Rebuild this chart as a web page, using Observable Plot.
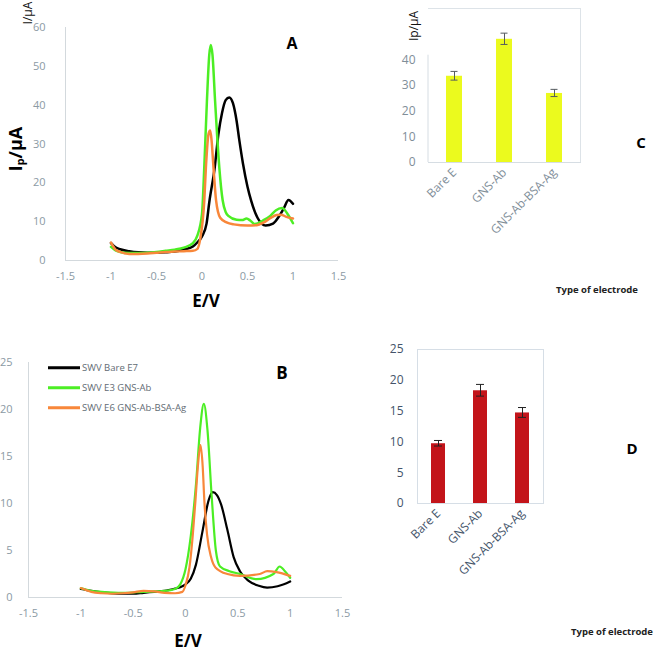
<!DOCTYPE html>
<html><head><meta charset="utf-8">
<script src="https://cdn.jsdelivr.net/npm/d3@7"></script>
<script src="https://cdn.jsdelivr.net/npm/@observablehq/plot@0.6"></script>
<style>
body{margin:0;background:#fff;}
#fig{position:relative;width:659px;height:650px;overflow:hidden;font-family:"Open Sans",sans-serif;background:#fff;}
.p{position:absolute;}
.lbl{position:absolute;white-space:nowrap;line-height:1;}
.rot{transform:translate(-50%,-50%) rotate(-90deg);}
.ctr{transform:translate(-50%,-50%);}
sub{font-size:60%;vertical-align:-0.15em;}
</style></head><body><div id="fig"></div>
<script>
// ---------- data ----------
const seriesNames = ["SWV Bare E7", "SWV E3 GNS-Ab", "SWV E6 GNS-Ab-BSA-Ag"];
const seriesColors = ["#000000", "#4cee24", "#f8873a"];

// Panel A (I/µA vs E/V)
const aBlackE = [-1,-0.95,-0.9,-0.8,-0.7,-0.6,-0.5,-0.4,-0.3,-0.2,-0.1,-0.05,0,0.05,0.08,0.14,0.18,0.22,0.26,0.30,0.34,0.38,0.41,0.45,0.50,0.54,0.61,0.70,0.78,0.85,0.90,0.95,1.0];
const aBlackI = [4.5,3.4,2.9,2.4,2.1,2.0,2.0,2.1,2.3,2.8,3.6,4.7,6.2,9.5,15,24,32.5,38,41.3,42,40.5,36,31,25,19,15.4,11,9,9.5,11.5,13.5,15.6,14.6];
const aGreenE = [-1,-0.95,-0.9,-0.8,-0.7,-0.6,-0.5,-0.4,-0.3,-0.2,-0.1,-0.05,0,0.025,0.054,0.08,0.097,0.115,0.144,0.19,0.227,0.26,0.29,0.38,0.44,0.49,0.53,0.58,0.67,0.75,0.81,0.88,0.94,1.0];
const aGreenI = [3.5,2.6,2.2,1.9,1.9,2.0,2.2,2.5,2.8,3.3,4.5,6.5,12,24,41,53,55.5,53,41,24,15.5,12.5,11.5,10.5,10.4,10.8,10.3,9.4,10.3,11.5,12.9,13.5,12,9.6];
const aOrangeE = [-1,-0.95,-0.9,-0.8,-0.7,-0.6,-0.5,-0.4,-0.3,-0.2,-0.1,-0.05,-0.02,0.025,0.043,0.072,0.09,0.105,0.126,0.155,0.2,0.27,0.35,0.5,0.6,0.68,0.75,0.82,0.87,0.92,1.0];
const aOrangeI = [4.6,2.8,2.2,1.7,1.7,1.8,2.0,2.2,2.3,2.4,2.5,3.0,5.5,15.4,24,32.6,33.5,31,24,15.4,11,9.8,9.3,9.0,9.1,9.8,10.9,11.7,11.8,11.3,10.8];

// Panel B
const bBlackE = [-1,-0.9,-0.8,-0.6,-0.5,-0.4,-0.3,-0.2,-0.1,-0.05,0,0.05,0.1,0.16,0.22,0.26,0.30,0.34,0.40,0.46,0.52,0.6,0.7,0.78,0.88,0.94,1.0];
const bBlackI = [0.9,0.7,0.55,0.4,0.4,0.5,0.6,0.7,0.95,1.1,1.4,2.0,3.5,6.9,10.3,11.2,10.9,9.9,7.2,4.3,2.8,1.8,1.25,1.06,1.2,1.4,1.7];
const bGreenE = [-1,-0.9,-0.8,-0.6,-0.4,-0.2,-0.1,-0.05,0,0.05,0.1,0.14,0.175,0.21,0.25,0.29,0.33,0.42,0.52,0.68,0.84,0.9,0.95,1.0];
const bGreenI = [1.0,0.7,0.6,0.5,0.6,0.7,0.9,1.4,3.0,6.5,12,18,20.6,17.8,10.8,5.0,3.3,2.8,2.5,1.95,2.5,3.3,2.8,2.1];
const bOrangeE = [-1,-0.9,-0.8,-0.7,-0.6,-0.5,-0.4,-0.3,-0.2,-0.1,-0.03,0,0.038,0.07,0.095,0.117,0.143,0.165,0.18,0.206,0.244,0.286,0.4,0.52,0.71,0.78,0.87,1.0];
const bOrangeI = [1.0,0.6,0.45,0.4,0.45,0.55,0.7,0.65,0.5,0.45,0.6,1.3,3.2,6.7,10.3,13.8,16.2,13.8,10.3,6.7,4.3,3.2,2.5,2.3,2.5,2.8,2.7,2.3];

// Panels C and D (bars)
const electrodes = ["Bare E", "GNS-Ab", "GNS-Ab-BSA-Ag"];
const cValues = [33.6, 48.0, 26.9];
const cErrors = [1.7, 2.2, 1.4];
const dValues = [9.7, 18.3, 14.7];
const dErrors = [0.45, 0.95, 0.8];

const aXTicks = [-1.5,-1,-0.5,0,0.5,1,1.5];
const aYTicks = [0,10,20,30,40,50,60];
const bYTicks = [0,5,10,15,20,25];
const cYTicks = [0,10,20,30,40];
const dYTicks = [0,5,10,15,20,25];

// ---------- helpers ----------
const NS = "http://www.w3.org/2000/svg";
const fig = document.getElementById("fig");
function place(node, left, top){ node.classList.add("p"); node.style.left=left+"px"; node.style.top=top+"px"; fig.appendChild(node); }
function label(html, x, y, css, cls){ const d=document.createElement("div"); d.className="lbl "+(cls||""); d.innerHTML=html; d.style.left=x+"px"; d.style.top=y+"px"; Object.assign(d.style, css||{}); fig.appendChild(d); return d; }
const zipPts = (E, I) => E.map((e,i)=>({E:e, I:I[i]}));
const fmt = d => String(d);

function curvePanel(opts){
  const {width,height,mL,mR,mT,mB,yDomain,yTicks,series,sw,yPad,xPad} = opts;
  return Plot.plot({
    width, height, marginLeft:mL, marginRight:mR, marginTop:mT, marginBottom:mB,
    x:{domain:[-1.5,1.5]}, y:{domain:yDomain},
    style:{fontFamily:"Open Sans, sans-serif", fontSize:"11px", color:"#8b9aa4", background:"transparent", overflow:"visible"},
    marks:[
      Plot.ruleX([-1.5], {stroke:"#d3d9dd", strokeWidth:1}),
      Plot.ruleY([yDomain[0]], {stroke:"#d3d9dd", strokeWidth:1}),
      Plot.axisX({ticks:aXTicks, tickSize:0, tickPadding:xPad, tickFormat:fmt, label:null}),
      Plot.axisY({ticks:yTicks, tickSize:0, tickPadding:yPad, tickFormat:fmt, label:null}),
      ...series.map((s,k)=>Plot.line(zipPts(s[0], s[1]), {x:"E", y:"I", stroke:seriesColors[k], strokeWidth:sw, curve:"monotone-x"}))
    ]
  });
}

function barPanel(opts){
  const {width,height,mL,mR,mT,mB,yDomain,yTicks,values,errors,fill,errColor,pad,capHalf,tickColor,catColor,box} = opts;
  const data = electrodes.map((c,i)=>({c, v:values[i], e:errors[i]}));
  const marks = [];
  if (box === "full") marks.push(Plot.frame({stroke:"#d6dee6"}));
  else {
    marks.push(Plot.frame({anchor:"top", stroke:"#dde3e8"}));
    marks.push(Plot.frame({anchor:"right", stroke:"#dde3e8"}));
    marks.push(Plot.frame({anchor:"bottom", stroke:"#d6dde3"}));
    // partial left axis line, up to just above the last tick
    marks.push((index, scales, values2, dims) => {
      const l = document.createElementNS(NS,"line");
      l.setAttribute("x1", dims.marginLeft); l.setAttribute("x2", dims.marginLeft);
      l.setAttribute("y1", scales.y(yDomain[0])); l.setAttribute("y2", scales.y(yTicks[yTicks.length-1]*1.045));
      l.setAttribute("stroke","#d6dde3");
      return l;
    });
  }
  marks.push(
    Plot.axisY({ticks:yTicks, tickSize:0, tickPadding:opts.yPad, tickFormat:fmt, label:null, color:tickColor, fontSize:12}),
    Plot.axisX({tickSize:0, tickPadding:opts.xPad, tickRotate:-45, label:null, color:catColor, fontSize:12}),
    Plot.barY(data, {x:"c", y:"v", fill}),
    Plot.ruleX(data, {x:"c", y1:d=>d.v-d.e, y2:d=>d.v+d.e, stroke:errColor, strokeWidth:1}),
    // error-bar caps, positioned through the scales
    (index, scales) => {
      const g = document.createElementNS(NS,"g");
      const xs = scales.x;
      const bw = typeof xs.bandwidth === "function" ? xs.bandwidth() : (xs.bandwidth || 0);
      for (const d of data) {
        const cx = xs(d.c) + bw/2;
        for (const yv of [d.v - d.e, d.v + d.e]) {
          const l = document.createElementNS(NS,"line");
          const yy = scales.y(yv);
          l.setAttribute("x1", cx - capHalf); l.setAttribute("x2", cx + capHalf);
          l.setAttribute("y1", yy); l.setAttribute("y2", yy);
          l.setAttribute("stroke", errColor);
          g.appendChild(l);
        }
      }
      return g;
    }
  );
  return Plot.plot({
    width, height, marginLeft:mL, marginRight:mR, marginTop:mT, marginBottom:mB,
    x:{domain:electrodes, paddingInner:pad, paddingOuter:pad/2},
    y:{domain:yDomain},
    style:{fontFamily:"Open Sans, sans-serif", fontSize:"12px", background:"transparent", overflow:"visible"},
    marks
  });
}

// ---------- Panel A ----------
place(curvePanel({width:360,height:300,mL:65,mR:22,mT:27,mB:40,yDomain:[0,60],yTicks:aYTicks,sw:2.5,yPad:20,xPad:12,
  series:[[aBlackE,aBlackI],[aGreenE,aGreenI],[aOrangeE,aOrangeI]]}), 0, 0);
label("I/μA", 28, 13, {fontSize:"12px", color:"#111"}, "rot");
label("I<sub>p</sub>/μA", 16, 149, {fontSize:"18px", fontWeight:"bold", color:"#000"}, "rot");
label("E/V", 206, 300, {fontSize:"17px", fontWeight:"bold", color:"#000"}, "ctr");
label("A", 292, 43, {fontSize:"16px", fontWeight:"bold", color:"#000"}, "ctr");

// ---------- Panel B ----------
place(curvePanel({width:360,height:350,mL:28,mR:18,mT:62,mB:53,yDomain:[0,25],yTicks:bYTicks,sw:2.2,yPad:16,xPad:12,
  series:[[bBlackE,bBlackI],[bGreenE,bGreenI],[bOrangeE,bOrangeI]]}), 0, 300);
label("E/V", 188, 640, {fontSize:"17px", fontWeight:"bold", color:"#000"}, "ctr");
label("B", 282, 372, {fontSize:"17px", fontWeight:"bold", color:"#000"}, "ctr");
seriesNames.forEach((n,k)=>{
  const row = document.createElement("div");
  row.className="lbl";
  row.style.left="48px"; row.style.top=(368+20*k)+"px";
  row.style.transform="translateY(-50%)";
  row.style.display="flex"; row.style.alignItems="center";
  row.innerHTML = `<span style="display:inline-block;width:32px;height:3px;background:${seriesColors[k]}"></span><span style="margin-left:2px;font-size:9.5px;color:#5f6b73">${n}</span>`;
  fig.appendChild(row);
});

// ---------- Panel C ----------
place(barPanel({width:299,height:300,mL:68,mR:79,mT:8,mB:138,yDomain:[0,60],yTicks:cYTicks,values:cValues,errors:cErrors,
  fill:"#ebfa1e", errColor:"#555b60", pad:0.68, capHalf:3.5, tickColor:"#7f8e99", catColor:"#7f8e99", yPad:13, xPad:8, box:"partial"}), 360, 0);
label("Ip/μA", 414, 26, {fontSize:"12px", color:"#111"}, "rot");
label("C", 641, 142, {fontSize:"15px", fontWeight:"bold", color:"#000"}, "ctr");
label("Type of electrode", 597, 290, {fontSize:"9.5px", fontWeight:"bold", color:"#222"}, "ctr");

// ---------- Panel D ----------
place(barPanel({width:299,height:350,mL:57,mR:116,mT:49,mB:147,yDomain:[0,25],yTicks:dYTicks,values:dValues,errors:dErrors,
  fill:"#c3141a", errColor:"#222", pad:0.67, capHalf:4, tickColor:"#44546a", catColor:"#44546a", yPad:14, xPad:8, box:"full"}), 360, 300);
label("D", 632, 448, {fontSize:"15px", fontWeight:"bold", color:"#000"}, "ctr");
label("Type of electrode", 612, 632, {fontSize:"9.5px", fontWeight:"bold", color:"#222"}, "ctr");
</script>
</body></html>
